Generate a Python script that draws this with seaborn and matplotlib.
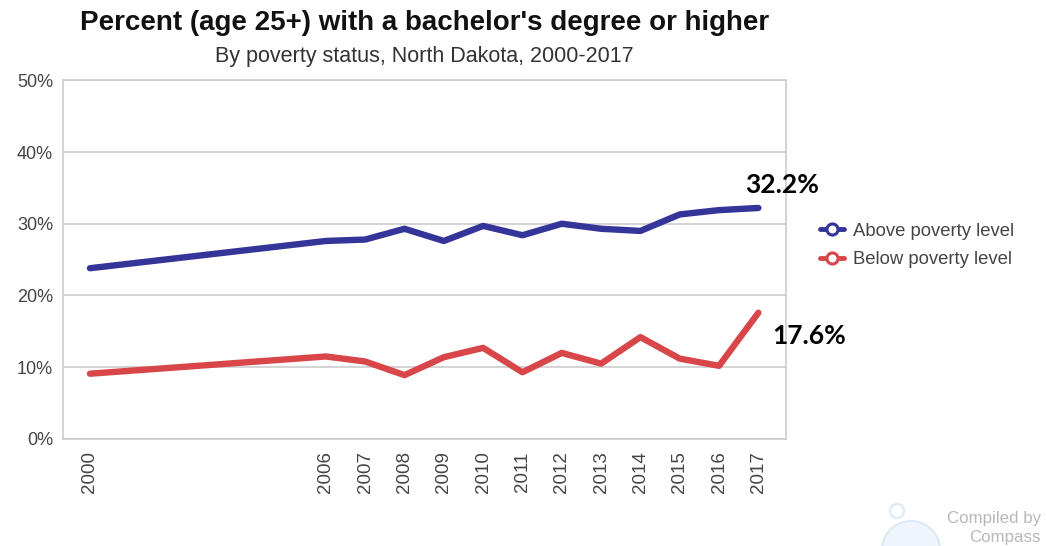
import pandas as pd
import matplotlib
matplotlib.use("Agg")
import matplotlib.pyplot as plt
import seaborn as sns
from matplotlib.lines import Line2D
from matplotlib.patches import Circle
from matplotlib.transforms import IdentityTransform
from matplotlib.ticker import PercentFormatter

# Data
years = [2000, 2006, 2007, 2008, 2009, 2010, 2011, 2012, 2013, 2014, 2015, 2016, 2017]
above_poverty = [23.8, 27.6, 27.8, 29.3, 27.6, 29.7, 28.4, 30.0, 29.3, 29.0, 31.3, 31.9, 32.2]
below_poverty = [9.1, 11.5, 10.8, 8.9, 11.4, 12.7, 9.3, 12.0, 10.5, 14.2, 11.2, 10.2, 17.6]
series_names = ["Above poverty level", "Below poverty level"]
series_colors = ["#343499", "#d9464a"]
end_labels = ["32.2%", "17.6%"]

df = pd.DataFrame({
    "year": years * 2,
    "pct": above_poverty + below_poverty,
    "series": [series_names[0]] * len(years) + [series_names[1]] * len(years),
})

sns.set_style("white")
plt.rcParams["font.family"] = ["Liberation Sans", "DejaVu Sans"]

fig = plt.figure(figsize=(10.47, 5.46), dpi=100)
ax = fig.add_axes([0.060, 0.196, 0.691, 0.657])

sns.lineplot(data=df, x="year", y="pct", hue="series",
             palette=dict(zip(series_names, series_colors)),
             linewidth=4.6, legend=False, ax=ax,
             solid_capstyle="round", solid_joinstyle="round")

ax.set_xlim(1999.31, 2017.71)
ax.set_ylim(0, 50)
ax.set_xticks(years)
ax.set_xticklabels([str(y) for y in years], rotation=90)
ax.set_yticks(range(0, 51, 10))
ax.yaxis.set_major_formatter(PercentFormatter(decimals=0))
ax.tick_params(axis="both", length=0, labelcolor="#444444")
ax.tick_params(axis="x", pad=9, labelsize=13.5)
ax.tick_params(axis="y", pad=7, labelsize=13)
ax.set_xlabel("")
ax.set_ylabel("")
ax.yaxis.grid(True, color="#cccccc", linewidth=1.2)
ax.set_axisbelow(True)
for side in ["left", "right", "bottom", "top"]:
    ax.spines[side].set_visible(True)
    ax.spines[side].set_color("#cccccc")
    ax.spines[side].set_linewidth(1.2)

# end-of-line value labels
lbl_offsets = [(24, 23), (51, -23)]
for vals, txt, off in zip([above_poverty, below_poverty], end_labels, lbl_offsets):
    ax.annotate(txt, (years[-1], vals[-1]), xytext=off, textcoords="offset pixels",
                ha="center", va="center", fontsize=19, fontweight="bold",
                family=["Lato", "DejaVu Sans"], color="black", annotation_clip=False)

# legend
handles = [Line2D([0], [0], color=c, lw=3.5, marker="o", markersize=8,
                  markerfacecolor="white", markeredgewidth=2.2) for c in series_colors]
leg = fig.legend(handles, series_names, loc="upper left", bbox_to_anchor=(0.776, 0.606),
                 frameon=False, fontsize=13.3, handlelength=1.3, handletextpad=0.5,
                 labelspacing=0.62, borderaxespad=0)
for t in leg.get_texts():
    t.set_color("#444444")

# titles
fig.text(0.4055, 0.958, "Percent (age 25+) with a bachelor's degree or higher",
         ha="center", va="center", fontsize=20, fontweight="bold", color="#111111")
fig.text(0.4055, 0.897, "By poverty status, North Dakota, 2000-2017",
         ha="center", va="center", fontsize=15.5, color="#333333")

# watermark (faint compass icon + text)
fig.add_artist(Circle((911, -4), 29, transform=IdentityTransform(),
                      facecolor="#eef5fc", edgecolor="#dbe9f6", lw=1.5, zorder=0))
fig.add_artist(Circle((897, 35), 7, transform=IdentityTransform(),
                      facecolor="none", edgecolor="#dbe9f6", lw=1.5, zorder=0))
fig.text(0.994, 0.050, "Compiled by", ha="right", va="center", fontsize=12.2, color="#b8b8b8")
fig.text(0.994, 0.015, "Compass", ha="right", va="center", fontsize=12.2, color="#b8b8b8")

fig.savefig("out.png", dpi=100)
